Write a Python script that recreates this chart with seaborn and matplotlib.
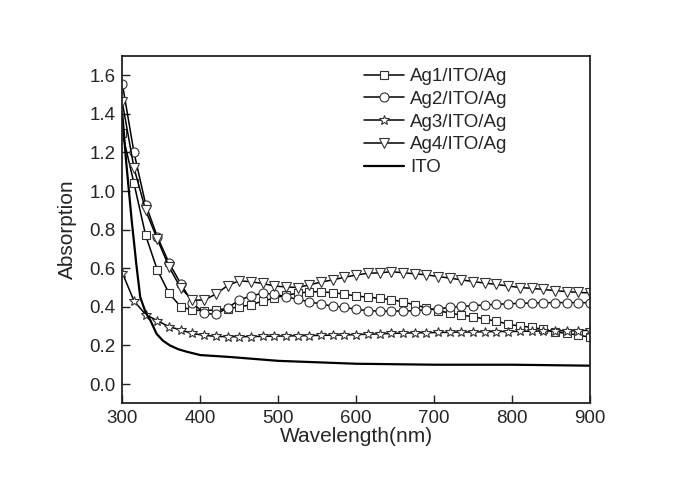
import numpy as np
import pandas as pd
import matplotlib
matplotlib.use("Agg")
import matplotlib.pyplot as plt
import seaborn as sns

# ---- data ----
wl = [300, 315, 330, 345, 360, 375, 390, 405, 420, 435, 450, 465, 480, 495, 510,
      525, 540, 555, 570, 585, 600, 615, 630, 645, 660, 675, 690, 705, 720, 735,
      750, 765, 780, 795, 810, 825, 840, 855, 870, 885, 900]

ag1 = [1.30, 1.04, 0.77, 0.59, 0.47, 0.40, 0.383, 0.38, 0.385, 0.39, 0.40, 0.41,
       0.43, 0.445, 0.461, 0.47, 0.478, 0.478, 0.473, 0.466, 0.456, 0.45, 0.444,
       0.437, 0.426, 0.41, 0.395, 0.38, 0.368, 0.357, 0.349, 0.336, 0.326, 0.31,
       0.30, 0.294, 0.283, 0.27, 0.262, 0.254, 0.242]

ag2 = [1.557, 1.20, 0.93, 0.763, 0.627, 0.52, 0.42, 0.366, 0.361, 0.395, 0.435,
       0.457, 0.47, 0.466, 0.452, 0.439, 0.426, 0.414, 0.404, 0.397, 0.387, 0.38,
       0.378, 0.378, 0.378, 0.38, 0.385, 0.39, 0.397, 0.402, 0.406, 0.41, 0.413,
       0.416, 0.418, 0.42, 0.421, 0.422, 0.422, 0.422, 0.421]

ag3 = [0.577, 0.43, 0.36, 0.328, 0.297, 0.28, 0.262, 0.252, 0.247, 0.245, 0.245,
       0.246, 0.247, 0.248, 0.249, 0.25, 0.251, 0.252, 0.253, 0.254, 0.256, 0.258,
       0.26, 0.262, 0.264, 0.265, 0.266, 0.267, 0.268, 0.269, 0.27, 0.271, 0.272,
       0.272, 0.273, 0.274, 0.275, 0.275, 0.276, 0.277, 0.278]

ag4 = [1.46, 1.12, 0.90, 0.75, 0.607, 0.497, 0.435, 0.435, 0.466, 0.51, 0.535,
       0.53, 0.521, 0.508, 0.503, 0.50, 0.514, 0.528, 0.54, 0.553, 0.565, 0.574,
       0.576, 0.582, 0.577, 0.571, 0.566, 0.557, 0.549, 0.54, 0.531, 0.523, 0.516,
       0.508, 0.50, 0.496, 0.49, 0.484, 0.479, 0.475, 0.472]

ito_wl = [300, 305, 312, 318, 323, 330, 336, 344, 352, 361, 372, 383, 400, 438,
          500, 600, 700, 800, 900]
ito = [1.40, 1.15, 0.85, 0.62, 0.45, 0.37, 0.33, 0.26, 0.225, 0.20, 0.18, 0.167,
       0.15, 0.14, 0.12, 0.105, 0.10, 0.10, 0.095]

labels = ["Ag1/ITO/Ag", "Ag2/ITO/Ag", "Ag3/ITO/Ag", "Ag4/ITO/Ag", "ITO"]
xticks = [300, 400, 500, 600, 700, 800, 900]
yticks = [0.0, 0.2, 0.4, 0.6, 0.8, 1.0, 1.2, 1.4, 1.6]

# ---- style ----
sns.set_theme(style="ticks")
plt.rcParams['font.family'] = ['Liberation Sans', 'DejaVu Sans']

fig = plt.figure(figsize=(6.85, 4.84), dpi=100)
ax = fig.add_axes([122.3 / 685, 1 - 403.3 / 484, (590 - 122.3) / 685, (403.3 - 56) / 484])

series = [(ag1, 's', 5.5), (ag2, 'o', 6.5), (ag3, '*', 7.5), (ag4, 'v', 7.5)]
for (vals, mk, ms), lab in zip(series, labels[:4]):
    df = pd.DataFrame({"wl": wl, "val": vals})
    sns.lineplot(data=df, x="wl", y="val", ax=ax, color="black", lw=1.1,
                 marker=mk, markersize=ms, markerfacecolor="white",
                 markeredgecolor="#333333", markeredgewidth=0.8, label=lab)

df_ito = pd.DataFrame({"wl": ito_wl, "val": ito})
sns.lineplot(data=df_ito, x="wl", y="val", ax=ax, color="black", lw=1.6, label=labels[4])

ax.set_xlim(300, 900)
ax.set_ylim(-0.1, 1.7)
ax.set_xticks(xticks)
ax.set_yticks(yticks)
ax.set_yticklabels([f"{v:.1f}" for v in yticks])
ax.tick_params(direction="in", length=6, width=1.0, labelsize=13.5, color="#222222",
               pad=5)
for s in ax.spines.values():
    s.set_linewidth(1.3)
    s.set_color("#222222")
ax.set_xlabel("Wavelength(nm)", fontsize=15, labelpad=0)
ax.set_ylabel("Absorption", fontsize=15, labelpad=9)

leg = ax.legend(loc="upper left", bbox_to_anchor=(364 / 685, 1 - 68 / 484),
                bbox_transform=fig.transFigure, frameon=False, fontsize=13.5,
                handlelength=2.15, labelspacing=0.3, handletextpad=0.3,
                borderaxespad=0, borderpad=0)

fig.savefig("out.png", dpi=100)
